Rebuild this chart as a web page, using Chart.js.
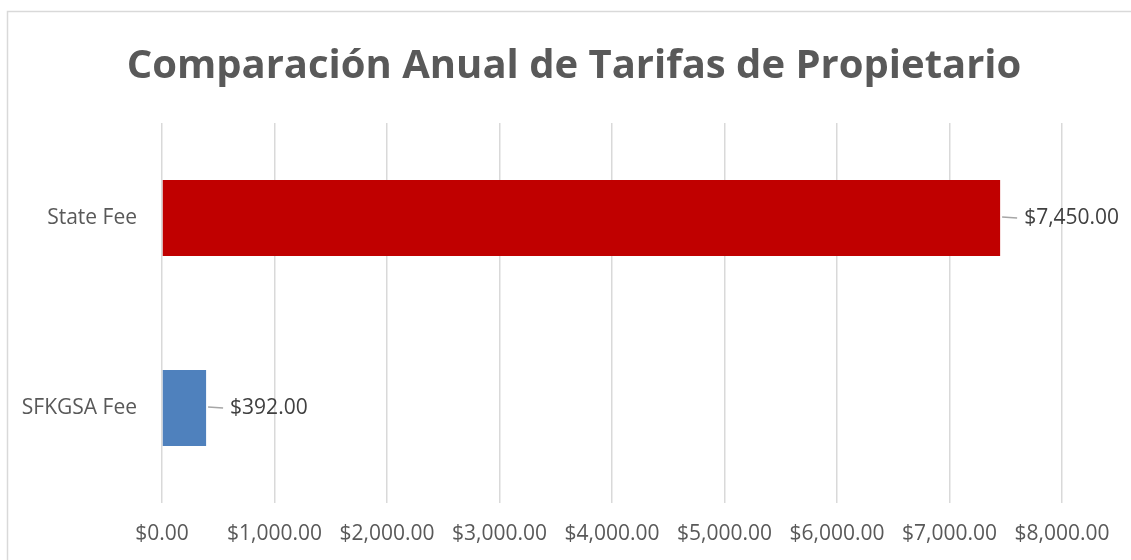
<!DOCTYPE html>
<html>
<head>
<meta charset="utf-8">
<script src="https://cdn.jsdelivr.net/npm/chart.js@4.4.1/dist/chart.umd.min.js"></script>
<style>
  html, body { margin: 0; padding: 0; background: #fff; }
  #wrap { width: 1131px; height: 560px; }
</style>
</head>
<body>
<div id="wrap"><canvas id="feesChart" width="1131" height="560"></canvas></div>
<script>
var categorias = ['State Fee', 'SFKGSA Fee'];
var tarifas = [7450, 392];
var colores = ['#C00000', '#4F81BD'];
var tituloTexto = 'Comparación Anual de Tarifas de Propietario';
var ejeMin = 0, ejeMax = 8000, ejePaso = 1000;

function dinero(v) {
    return '$' + v.toLocaleString('en-US', { minimumFractionDigits: 2, maximumFractionDigits: 2 });
}

// marco gris y titulo (centrado en el marco, no en el area del grafico)
var marco = {
    id: 'marco',
    beforeDraw: function (chart) {
        var ctx = chart.ctx;
        ctx.save();
        ctx.strokeStyle = '#d9d9d9';
        ctx.lineWidth = 1.5;
        ctx.strokeRect(7.5, 11.5, 1200, 700);
        ctx.font = 'bold 40px "Open Sans", sans-serif';
        ctx.fillStyle = '#595959';
        ctx.textAlign = 'center';
        ctx.textBaseline = 'alphabetic';
        ctx.fillText(tituloTexto, 574, 78);
        ctx.restore();
    }
};

// etiquetas de datos con linea guia
var etiquetas = {
    id: 'etiquetas',
    afterDatasetsDraw: function (chart) {
        var ctx = chart.ctx;
        var meta = chart.getDatasetMeta(0);
        ctx.save();
        ctx.font = '21px "Open Sans", sans-serif';
        ctx.fillStyle = '#404040';
        ctx.textAlign = 'left';
        ctx.textBaseline = 'middle';
        meta.data.forEach(function (bar, i) {
            var x = bar.x, y = bar.y;
            ctx.strokeStyle = '#a6a6a6';
            ctx.lineWidth = 1.5;
            ctx.beginPath();
            ctx.moveTo(x + 2, y - 1);
            ctx.lineTo(x + 17, y);
            ctx.stroke();
            ctx.fillText(dinero(tarifas[i]), x + 24, y);
        });
        ctx.restore();
    }
};

var ctx = document.getElementById('feesChart');
new Chart(ctx, {
    type: 'bar',
    data: {
        labels: categorias,
        datasets: [{
            data: tarifas,
            backgroundColor: colores,
            borderWidth: 0,
            categoryPercentage: 1.0,
            barPercentage: 0.4
        }]
    },
    options: {
        indexAxis: 'y',
        responsive: false,
        animation: false,
        layout: { padding: { left: 0, right: 69, top: 123, bottom: 0 } },
        plugins: {
            legend: { display: false },
            tooltip: { enabled: false },
            title: { display: false }
        },
        scales: {
            x: {
                min: ejeMin,
                max: ejeMax,
                border: { display: false },
                grid: { color: '#d9d9d9', lineWidth: 1.5, drawTicks: false },
                ticks: {
                    stepSize: ejePaso,
                    color: '#595959',
                    padding: 18,
                    font: { family: '"Open Sans", sans-serif', size: 21 },
                    callback: function (v) { return dinero(v); }
                },
                afterFit: function (scale) { scale.height = 57; }
            },
            y: {
                border: { display: false },
                grid: { display: false, drawTicks: false },
                ticks: {
                    color: '#595959',
                    padding: 25,
                    font: { family: '"Open Sans", sans-serif', size: 21 }
                },
                afterFit: function (scale) { scale.width = 162; }
            }
        }
    },
    plugins: [marco, etiquetas]
});
</script>
</body>
</html>
